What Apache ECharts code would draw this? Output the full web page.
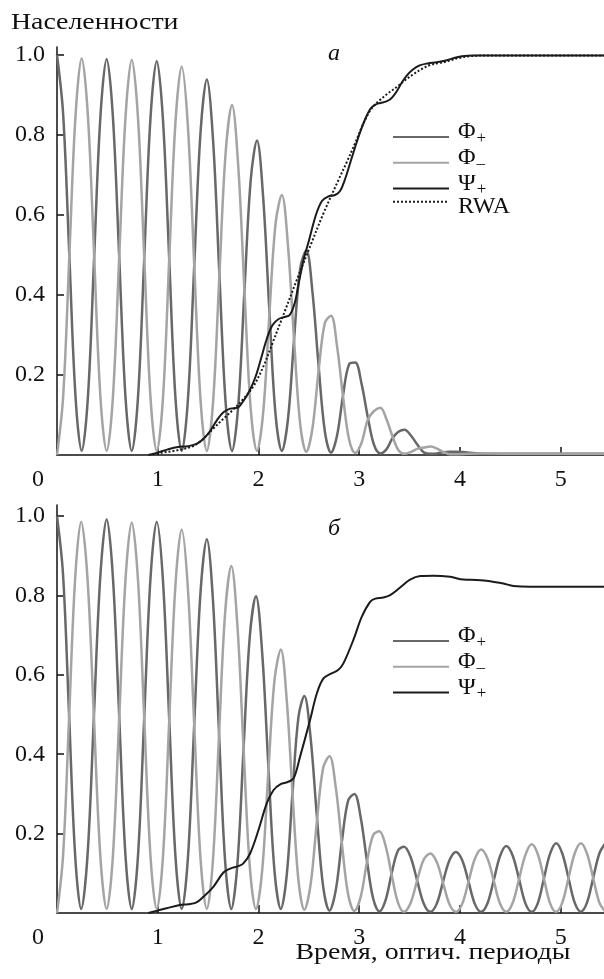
<!DOCTYPE html>
<html><head><meta charset="utf-8">
<script src="https://cdn.jsdelivr.net/npm/echarts@6/dist/echarts.min.js"></script>
<style>html,body{margin:0;padding:0;background:#fff}#c{width:604px;height:979px}</style>
</head><body><div id="c"></div>
<script>
// ---------- data ----------
const xTicks = [0, 1, 2, 3, 4, 5];
const yTicks = [0.2, 0.4, 0.6, 0.8, 1.0];

// panel a: time samples shared by Φ+ and Φ−
const tTop = [
  0, 0.061, 0.1225, 0.184,
  0.245, 0.307, 0.369, 0.431,
  0.493, 0.555, 0.6175, 0.68,
  0.742, 0.804, 0.866, 0.928,
  0.99, 1.052, 1.114, 1.176,
  1.238, 1.3, 1.3625, 1.425,
  1.487, 1.5495, 1.612, 1.6745,
  1.737, 1.799, 1.861, 1.923,
  1.985, 2.047, 2.1085, 2.17,
  2.232, 2.293, 2.3535, 2.414,
  2.475, 2.536, 2.5975, 2.659,
  2.72, 2.78, 2.84, 2.9,
  2.96, 3.0225, 3.085, 3.1475,
  3.21, 3.27, 3.33, 3.39,
  3.45, 3.515, 3.58, 3.645,
  3.71, 3.7725, 3.835, 3.8975,
  3.96, 4.2, 4.45, 4.7, 4.95, 5.2, 5.43
];
const phiPlusTop = [
  1.0, 0.852, 0.498, 0.145,
  0.01, 0.145, 0.496, 0.846,
  0.99, 0.845, 0.495, 0.144,
  0.01, 0.144, 0.493, 0.842,
  0.985, 0.838, 0.489, 0.142,
  0.01, 0.140, 0.475, 0.807,
  0.939, 0.786, 0.451, 0.129,
  0.01, 0.123, 0.412, 0.687,
  0.786, 0.642, 0.359, 0.100,
  0.01, 0.090, 0.290, 0.466,
  0.512, 0.407, 0.221, 0.059,
  0.006, 0.049, 0.150, 0.227,
  0.231, 0.179, 0.095, 0.025,
  0.004, 0.014, 0.042, 0.058,
  0.063, 0.048, 0.025, 0.006,
  0.003, 0.004, 0.007, 0.008,
  0.008, 0.004, 0.003, 0.003, 0.003, 0.003, 0.003
];
const phiMinusTop = [
  0.0, 0.146, 0.498, 0.849,
  0.992, 0.847, 0.496, 0.145,
  0.01, 0.144, 0.495, 0.844,
  0.988, 0.843, 0.493, 0.144,
  0.01, 0.143, 0.489, 0.832,
  0.971, 0.819, 0.474, 0.137,
  0.01, 0.133, 0.450, 0.757,
  0.875, 0.723, 0.410, 0.115,
  0.01, 0.107, 0.353, 0.579,
  0.65, 0.523, 0.287, 0.078,
  0.008, 0.067, 0.212, 0.330,
  0.348, 0.272, 0.145, 0.038,
  0.005, 0.030, 0.088, 0.110,
  0.118, 0.090, 0.047, 0.012,
  0.003, 0.008, 0.016, 0.019,
  0.021, 0.016, 0.008, 0.002,
  0.002, 0.004, 0.003, 0.003, 0.003, 0.003, 0.003
];
const psiTopT = [0.907, 1.0, 1.1, 1.2, 1.3, 1.38, 1.453, 1.52, 1.59, 1.652, 1.72, 1.79, 1.85, 1.91, 1.97, 2.03, 2.082, 2.14, 2.2, 2.26, 2.31, 2.36, 2.4, 2.45, 2.5, 2.57, 2.63, 2.69, 2.76, 2.81, 2.86, 2.91, 2.96, 3.01, 3.06, 3.11, 3.16, 3.21, 3.27, 3.32, 3.37, 3.42, 3.47, 3.53, 3.6, 3.68, 3.77, 3.87, 3.95, 4.02, 4.13, 4.5, 5.0, 5.43];
const psiTopV = [0, 0.006, 0.014, 0.02, 0.022, 0.027, 0.04, 0.06, 0.088, 0.107, 0.116, 0.118, 0.135, 0.16, 0.195, 0.245, 0.29, 0.325, 0.34, 0.345, 0.35, 0.38, 0.43, 0.49, 0.535, 0.60, 0.635, 0.646, 0.65, 0.66, 0.69, 0.73, 0.77, 0.808, 0.84, 0.865, 0.876, 0.88, 0.884, 0.892, 0.908, 0.93, 0.948, 0.963, 0.974, 0.979, 0.982, 0.987, 0.993, 0.997, 0.999, 0.999, 0.999, 0.999];
const rwaT = [0.95, 1.05, 1.155, 1.25, 1.354, 1.45, 1.552, 1.65, 1.751, 1.85, 1.95, 2.05, 2.132, 2.247, 2.38, 2.512, 2.645, 2.794, 2.876, 2.96, 3.042, 3.12, 3.208, 3.29, 3.373, 3.455, 3.538, 3.62, 3.704, 3.79, 3.87, 3.98, 4.1, 4.3, 5.43];
const rwaV = [0.002, 0.006, 0.01, 0.015, 0.0225, 0.04, 0.066, 0.09, 0.114, 0.14, 0.172, 0.222, 0.275, 0.35, 0.4375, 0.521, 0.604, 0.6875, 0.732, 0.78, 0.829, 0.865, 0.888, 0.905, 0.92, 0.937, 0.952, 0.965, 0.975, 0.98, 0.984, 0.992, 0.997, 0.999, 0.999];

// panel б: time samples shared by Φ+ and Φ−
const tBottom = [
  0, 0.06, 0.12, 0.18,
  0.24, 0.303, 0.3665, 0.43,
  0.493, 0.555, 0.6175, 0.68,
  0.742, 0.804, 0.866, 0.928,
  0.99, 1.052, 1.114, 1.176,
  1.238, 1.3, 1.3625, 1.425,
  1.487, 1.548, 1.6085, 1.669,
  1.73, 1.791, 1.8525, 1.914,
  1.975, 2.037, 2.0985, 2.16,
  2.222, 2.28, 2.3385, 2.397,
  2.455, 2.5175, 2.58, 2.6425,
  2.705, 2.767, 2.8285, 2.89,
  2.952, 3.014, 3.076, 3.138,
  3.2, 3.261, 3.3225, 3.384,
  3.445, 3.51, 3.575, 3.64,
  3.705, 3.769, 3.8325, 3.896,
  3.96, 4.0225, 4.085, 4.1475,
  4.21, 4.2725, 4.335, 4.3975,
  4.46, 4.523, 4.586, 4.649,
  4.712, 4.773, 4.8335, 4.894,
  4.955, 5.016, 5.0775, 5.139,
  5.2, 5.261, 5.3225, 5.384,
  5.445
];
const phiPlusBottom = [
  1.0, 0.853, 0.499, 0.146,
  0.01, 0.145, 0.497, 0.848,
  0.992, 0.846, 0.495, 0.144,
  0.01, 0.144, 0.494, 0.843,
  0.986, 0.837, 0.488, 0.142,
  0.01, 0.140, 0.477, 0.809,
  0.942, 0.789, 0.453, 0.130,
  0.01, 0.124, 0.417, 0.697,
  0.798, 0.655, 0.368, 0.103,
  0.01, 0.094, 0.305, 0.494,
  0.547, 0.441, 0.243, 0.066,
  0.006, 0.057, 0.181, 0.283,
  0.300, 0.242, 0.133, 0.037,
  0.004, 0.032, 0.100, 0.157,
  0.167, 0.141, 0.082, 0.024,
  0.003, 0.023, 0.079, 0.133,
  0.154, 0.133, 0.079, 0.023,
  0.003, 0.024, 0.082, 0.143,
  0.169, 0.145, 0.086, 0.025,
  0.003, 0.025, 0.087, 0.149,
  0.176, 0.150, 0.088, 0.026,
  0.003, 0.026, 0.088, 0.150,
  0.176
];
const phiMinusBottom = [
  0.0, 0.144, 0.493, 0.842,
  0.986, 0.842, 0.493, 0.144,
  0.01, 0.144, 0.492, 0.840,
  0.984, 0.839, 0.490, 0.143,
  0.01, 0.142, 0.485, 0.827,
  0.966, 0.815, 0.472, 0.136,
  0.01, 0.133, 0.449, 0.756,
  0.874, 0.724, 0.411, 0.116,
  0.01, 0.108, 0.358, 0.589,
  0.664, 0.538, 0.298, 0.082,
  0.008, 0.072, 0.231, 0.366,
  0.395, 0.317, 0.174, 0.047,
  0.005, 0.040, 0.127, 0.196,
  0.206, 0.170, 0.096, 0.027,
  0.003, 0.025, 0.082, 0.134,
  0.150, 0.129, 0.076, 0.022,
  0.003, 0.023, 0.079, 0.136,
  0.160, 0.138, 0.082, 0.024,
  0.003, 0.025, 0.085, 0.146,
  0.173, 0.148, 0.087, 0.025,
  0.003, 0.026, 0.088, 0.150,
  0.176, 0.150, 0.088, 0.026,
  0.003
];
const psiBotT = [0.907, 1.0, 1.088, 1.22, 1.3, 1.38, 1.453, 1.552, 1.652, 1.72, 1.8, 1.85, 1.917, 2.0, 2.082, 2.15, 2.22, 2.29, 2.35, 2.413, 2.512, 2.579, 2.645, 2.72, 2.79, 2.843, 2.942, 3.025, 3.108, 3.16, 3.24, 3.307, 3.406, 3.505, 3.605, 3.737, 3.903, 4.035, 4.168, 4.3, 4.432, 4.532, 4.697, 4.962, 5.43];
const psiBotV = [0, 0.006, 0.012, 0.02, 0.022, 0.026, 0.041, 0.066, 0.102, 0.112, 0.118, 0.125, 0.15, 0.209, 0.276, 0.31, 0.325, 0.33, 0.34, 0.394, 0.486, 0.553, 0.591, 0.603, 0.612, 0.629, 0.688, 0.746, 0.784, 0.792, 0.795, 0.801, 0.82, 0.84, 0.849, 0.85, 0.847, 0.84, 0.839, 0.836, 0.83, 0.824, 0.822, 0.822, 0.822];

const legendTop = ['Φ+', 'Φ−', 'Ψ+', 'RWA'];
const legendBottom = ['Φ+', 'Φ−', 'Ψ+'];

// ---------- chart ----------
const FONT = 'Liberation Serif';
const TXT = '#111';
const C_PLUS = '#686868', C_MINUS = '#a4a4a4', C_PSI = '#1b1b1b';
const zip = (t, v) => t.map((x, i) => [x, v[i]]);

const chart = echarts.init(document.getElementById('c'), null, {renderer: 'canvas'});

function xAxisCfg(gridIndex) {
  return {
    type: 'value', gridIndex, min: 0, max: 5.43, interval: 1,
    axisLine: {show: true, onZero: false, lineStyle: {color: TXT, width: 1.5}},
    axisTick: {show: true, inside: true, length: 8, customValues: xTicks, lineStyle: {color: TXT, width: 1.5}},
    splitLine: {show: false},
    axisLabel: {
      show: true, margin: 13, color: TXT, fontFamily: FONT, fontSize: 24, customValues: xTicks,
      formatter: v => (Math.abs(v - Math.round(v)) > 1e-6 ? '' : (v === 0 ? '{z|0}' : String(v))),
      rich: {z: {fontFamily: FONT, fontSize: 24, color: TXT, padding: [0, 38, 0, 0]}}
    }
  };
}
function yAxisCfg(gridIndex, max) {
  return {
    type: 'value', gridIndex, min: 0, max, interval: 0.2,
    axisLine: {show: true, onZero: false, lineStyle: {color: TXT, width: 1.5}},
    axisTick: {show: true, inside: true, length: 7, customValues: yTicks, lineStyle: {color: TXT, width: 1.5}},
    splitLine: {show: false},
    axisLabel: {
      show: true, margin: 12, color: TXT, fontFamily: FONT, fontSize: 24, customValues: yTicks,
      formatter: v => (v < 0.1 || Math.abs(v * 5 - Math.round(v * 5)) > 1e-6) ? '' : v.toFixed(1)
    }
  };
}

const richLegend = {
  b: {fontFamily: FONT, fontSize: 24, color: TXT, lineHeight: 22},
  s: {fontFamily: FONT, fontSize: 17, color: TXT, lineHeight: 10, padding: [12, 0, 0, 1]}
};
const legendLabel = {'Φ+': '{b|Φ}{s|+}', 'Φ−': '{b|Φ}{s|–}', 'Ψ+': '{b|Ψ}{s|+}', 'RWA': '{b|RWA}'};
function legendCfg(names, top) {
  return {
    data: names.map(n => n === 'RWA'
      ? {name: n, textStyle: {padding: [10, 0, 0, 4]}}
      : {name: n, textStyle: {padding: [0, 0, 10, 4]}}),
    orient: 'vertical', left: 392, top, padding: 0,
    itemWidth: 56, itemHeight: 12, itemGap: -3.3,
    selectedMode: false,
    itemStyle: {opacity: 0},
    formatter: n => legendLabel[n],
    textStyle: {fontFamily: FONT, fontSize: 24, color: TXT, rich: richLegend, padding: [0, 0, 10, 4]}
  };
}

function lineSeries(name, xi, data, color, width, type, z) {
  return {
    type: 'line', name, xAxisIndex: xi, yAxisIndex: xi, data,
    smooth: 0.35, symbol: 'none', showSymbol: false, clip: true, z,
    lineStyle: {color, width, type: type || 'solid'}, itemStyle: {color},
    emphasis: {disabled: true}, animation: false
  };
}

chart.setOption({
  backgroundColor: '#fff',
  animation: false,
  grid: [
    {left: 57, right: 0, top: 47, height: 408, containLabel: false},
    {left: 57, right: 0, top: 505, height: 408, containLabel: false}
  ],
  xAxis: [xAxisCfg(0), xAxisCfg(1)],
  yAxis: [yAxisCfg(0, 1.02), yAxisCfg(1, 1.028)],
  legend: [legendCfg(legendTop, 117.6), legendCfg(legendBottom, 621.6)],
  graphic: [
    {type: 'text', x: 13, y: 23, scaleX: 1.16, originX: 13, style: {text: 'Населенности', font: '24px "Liberation Serif"', fill: TXT, align: 'left', verticalAlign: 'middle'}},
    {type: 'text', x: 334, y: 54, style: {text: 'а', font: 'italic 24px "Liberation Serif"', fill: TXT, align: 'center', verticalAlign: 'middle'}},
    {type: 'text', x: 334, y: 529, style: {text: 'б', font: 'italic 24px "Liberation Serif"', fill: TXT, align: 'center', verticalAlign: 'middle'}},
    {type: 'text', x: 433, y: 953, scaleX: 1.16, style: {text: 'Время, оптич. периоды', font: '24px "Liberation Serif"', fill: TXT, align: 'center', verticalAlign: 'middle'}}
  ],
  series: [
    lineSeries('Φ+', 0, zip(tTop, phiPlusTop), C_PLUS, 2.5, null, 2),
    lineSeries('Φ−', 0, zip(tTop, phiMinusTop), C_MINUS, 2.5, null, 2),
    lineSeries('Ψ+', 0, zip(psiTopT, psiTopV), C_PSI, 2, null, 3),
    lineSeries('RWA', 0, zip(rwaT, rwaV), C_PSI, 2, [2, 2], 3),
    lineSeries('Φ+', 1, zip(tBottom, phiPlusBottom), C_PLUS, 2.5, null, 2),
    lineSeries('Φ−', 1, zip(tBottom, phiMinusBottom), C_MINUS, 2.5, null, 2),
    lineSeries('Ψ+', 1, zip(psiBotT, psiBotV), C_PSI, 2, null, 3)
  ]
});
</script>
</body></html>
